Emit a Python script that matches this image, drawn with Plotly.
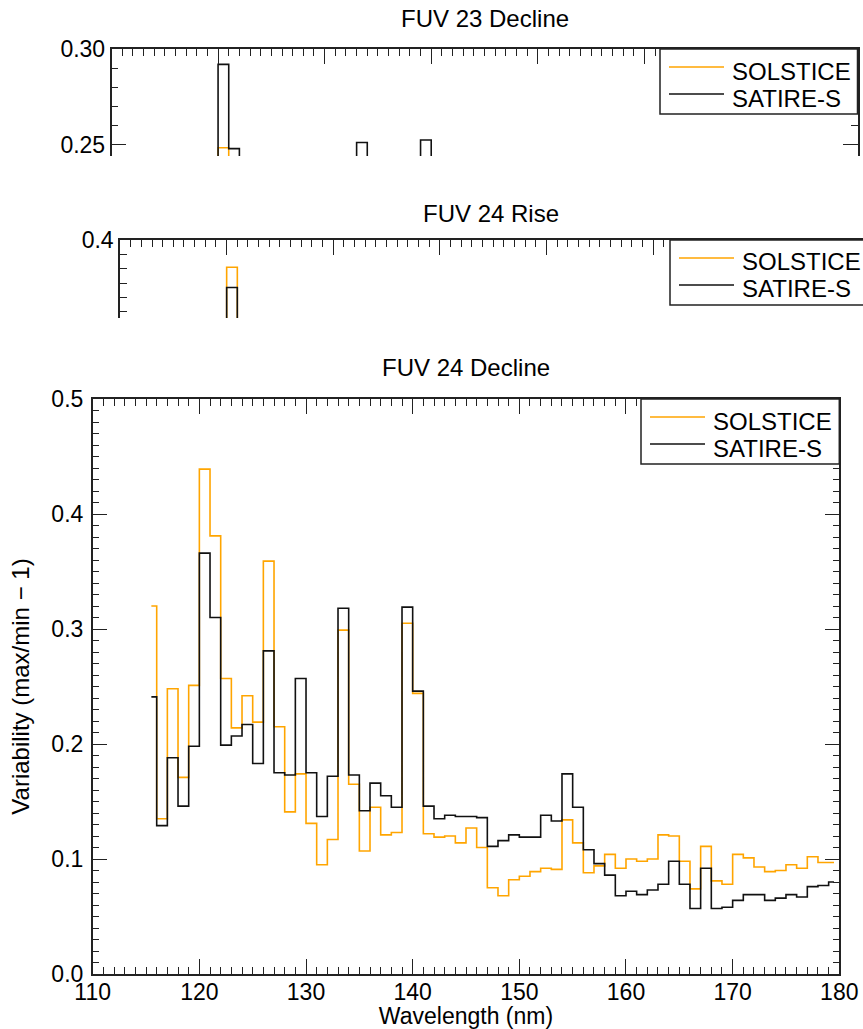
import plotly.graph_objects as go

# ---------------- data ----------------
wavelength = [115.5 + i for i in range(65)]  # bin centres, 1 nm bins 115.5 ... 179.5

# FUV 24 Decline (main panel)
solstice_24d = [0.320, 0.135, 0.248, 0.171, 0.251, 0.439, 0.381, 0.257, 0.214, 0.242,
                0.219, 0.359, 0.215, 0.141, 0.174, 0.131, 0.095, 0.117, 0.299, 0.165,
                0.107, 0.145, 0.121, 0.123, 0.305, 0.244, 0.122, 0.119, 0.120, 0.114,
                0.127, 0.110, 0.075, 0.068, 0.082, 0.085, 0.089, 0.092, 0.091, 0.134,
                0.114, 0.088, 0.094, 0.104, 0.092, 0.100, 0.098, 0.100, 0.121, 0.120,
                0.098, 0.074, 0.111, 0.081, 0.078, 0.104, 0.101, 0.093, 0.089, 0.090,
                0.095, 0.092, 0.102, 0.097, 0.097]
satire_24d = [0.241, 0.129, 0.188, 0.146, 0.198, 0.366, 0.310, 0.199, 0.207, 0.217,
              0.183, 0.281, 0.175, 0.173, 0.257, 0.175, 0.137, 0.172, 0.318, 0.173,
              0.142, 0.166, 0.155, 0.145, 0.319, 0.246, 0.146, 0.135, 0.138, 0.137,
              0.137, 0.136, 0.111, 0.116, 0.121, 0.119, 0.119, 0.138, 0.133, 0.174,
              0.145, 0.108, 0.096, 0.086, 0.068, 0.072, 0.069, 0.073, 0.078, 0.098,
              0.078, 0.057, 0.092, 0.057, 0.058, 0.064, 0.069, 0.069, 0.064, 0.066,
              0.069, 0.067, 0.076, 0.077, 0.080]

# FUV 23 Decline (top panel, only values above ~0.245 are visible)
solstice_23d = [0.210, 0.120, 0.190, 0.140, 0.200, 0.2485, 0.235, 0.190, 0.170, 0.185,
                0.170, 0.230, 0.160, 0.120, 0.140, 0.110, 0.085, 0.100, 0.220, 0.130,
                0.090, 0.115, 0.100, 0.100, 0.225, 0.190, 0.100, 0.098, 0.098, 0.095,
                0.100, 0.090, 0.065, 0.060, 0.070, 0.072, 0.075, 0.078, 0.077, 0.105,
                0.092, 0.074, 0.078, 0.085, 0.076, 0.082, 0.080, 0.082, 0.098, 0.097,
                0.080, 0.062, 0.090, 0.068, 0.066, 0.085, 0.083, 0.077, 0.074, 0.075,
                0.078, 0.076, 0.084, 0.080, 0.080]
satire_23d = [0.195, 0.110, 0.160, 0.125, 0.170, 0.292, 0.248, 0.170, 0.175, 0.185,
              0.155, 0.235, 0.150, 0.148, 0.215, 0.150, 0.118, 0.146, 0.2512, 0.148,
              0.122, 0.140, 0.132, 0.124, 0.2525, 0.205, 0.125, 0.116, 0.118, 0.117,
              0.117, 0.116, 0.095, 0.099, 0.103, 0.102, 0.102, 0.117, 0.113, 0.146,
              0.123, 0.092, 0.082, 0.074, 0.059, 0.062, 0.060, 0.063, 0.067, 0.084,
              0.067, 0.049, 0.079, 0.049, 0.050, 0.055, 0.059, 0.059, 0.055, 0.057,
              0.059, 0.058, 0.065, 0.066, 0.069]

# FUV 24 Rise (middle panel, only values above ~0.346 are visible)
solstice_24r = [0.300, 0.125, 0.230, 0.160, 0.235, 0.381, 0.330, 0.235, 0.195, 0.220,
                0.200, 0.320, 0.195, 0.130, 0.160, 0.120, 0.088, 0.108, 0.270, 0.150,
                0.098, 0.132, 0.110, 0.112, 0.280, 0.222, 0.111, 0.108, 0.109, 0.104,
                0.116, 0.100, 0.069, 0.062, 0.075, 0.078, 0.081, 0.084, 0.083, 0.122,
                0.104, 0.080, 0.086, 0.095, 0.084, 0.091, 0.089, 0.091, 0.110, 0.109,
                0.089, 0.067, 0.101, 0.074, 0.071, 0.095, 0.092, 0.085, 0.081, 0.082,
                0.086, 0.084, 0.093, 0.088, 0.088]
satire_24r = [0.225, 0.120, 0.175, 0.136, 0.185, 0.367, 0.290, 0.186, 0.193, 0.203,
              0.171, 0.263, 0.164, 0.162, 0.240, 0.164, 0.128, 0.161, 0.297, 0.162,
              0.133, 0.155, 0.145, 0.136, 0.298, 0.230, 0.137, 0.126, 0.129, 0.128,
              0.128, 0.127, 0.104, 0.108, 0.113, 0.111, 0.111, 0.129, 0.124, 0.163,
              0.136, 0.101, 0.090, 0.080, 0.064, 0.067, 0.065, 0.068, 0.073, 0.092,
              0.073, 0.053, 0.086, 0.053, 0.054, 0.060, 0.065, 0.065, 0.060, 0.062,
              0.065, 0.063, 0.071, 0.072, 0.075]

panel_titles = ["FUV 23 Decline", "FUV 24 Rise", "FUV 24 Decline"]
series_names = ["SOLSTICE", "SATIRE-S"]
x_title = "Wavelength (nm)"
y_title = "Variability (max/min \u2212 1)"

# ---------------- layout constants ----------------
W, H = 863, 1029
FONT = "Liberation Sans, Arial, Helvetica, sans-serif"
ORANGE = "#FFA500"
BLACK = "#111111"
AXC = "#222222"
PANEL_H = 575.0  # full pixel height of each panel


def xp(px):
    return px / W


def yp(py):
    return 1 - py / H


# pixel boxes (left, right, top, bottom) of the visible parts
top_box = (111.5, 857.5, 49.0, 156.0)
mid_box = (120.0, 863.0, 240.0, 318.0)
main_box = (92.7, 839.3, 399.0, 974.0)

px_per_nm = (main_box[1] - main_box[0]) / 70.0

top_ymax = 0.30
top_ymin = top_ymax - (top_box[3] - top_box[2]) * top_ymax / PANEL_H
mid_ymax = 0.4
mid_ymin = mid_ymax - (mid_box[3] - mid_box[2]) * mid_ymax / PANEL_H
mid_xmax = 110 + (mid_box[1] - mid_box[0]) / px_per_nm

fig = go.Figure()

panels = [
    ("x", "y", solstice_23d, satire_23d),
    ("x2", "y2", solstice_24r, satire_24r),
    ("x3", "y3", solstice_24d, satire_24d),
]
for xa, ya, sol, sat in panels:
    fig.add_trace(go.Scatter(x=wavelength, y=sol, mode="lines", line_shape="hvh",
                             line=dict(color=ORANGE, width=1.6), name=series_names[0],
                             xaxis=xa, yaxis=ya, showlegend=False))
    fig.add_trace(go.Scatter(x=wavelength, y=sat, mode="lines", line_shape="hvh",
                             line=dict(color=BLACK, width=1.6), name=series_names[1],
                             xaxis=xa, yaxis=ya, showlegend=False))

tickfont = dict(family=FONT, size=23, color="black")
minor_x = dict(ticks="inside", ticklen=7, dtick=1, tick0=110, tickcolor=AXC,
               tickwidth=1.3, showgrid=False)
minor_y = dict(ticks="inside", ticklen=7, dtick=0.01, tick0=0, tickcolor=AXC,
               tickwidth=1.3, showgrid=False)
common_x = dict(showgrid=False, zeroline=False, showline=True, linecolor=AXC, linewidth=1.5,
                ticks="inside", ticklen=15, tickwidth=1.3, tickcolor=AXC, dtick=10, tick0=110,
                minor=minor_x, tickfont=tickfont, automargin=False)
common_y = dict(showgrid=False, zeroline=False, showline=True, linecolor=AXC, linewidth=1.5,
                ticks="inside", ticklen=15, tickwidth=1.3, tickcolor=AXC,
                tickfont=tickfont, automargin=False, minor=minor_y)

fig.update_layout(
    width=W, height=H, margin=dict(l=0, r=0, t=0, b=0, autoexpand=False),
    paper_bgcolor="white", plot_bgcolor="white",
    font=dict(family=FONT, color="black"),
    showlegend=False,
    xaxis=dict(common_x, domain=[xp(top_box[0]), xp(top_box[1])], range=[110, 180], side="top",
               showticklabels=False, anchor="y", mirror=False),
    yaxis=dict(common_y, domain=[yp(top_box[3]), yp(top_box[2])], range=[top_ymin, top_ymax],
               dtick=0.05, tick0=0, tickformat=".2f", anchor="x", mirror="ticks"),
    xaxis2=dict(common_x, domain=[xp(mid_box[0]), min(xp(mid_box[1]), 1.0)], range=[110, mid_xmax],
                side="top", showticklabels=False, anchor="y2", mirror=False),
    yaxis2=dict(common_y, domain=[yp(mid_box[3]), yp(mid_box[2])], range=[mid_ymin, mid_ymax],
                dtick=0.1, tick0=0, tickformat=".1f", anchor="x2", mirror=False),
    xaxis3=dict(common_x, domain=[xp(main_box[0]), xp(main_box[1])], range=[110, 180],
                anchor="y3", mirror="ticks", ticklabelstandoff=-3,
                title=dict(text=x_title, font=dict(family=FONT, size=23, color="black"), standoff=6)),
    yaxis3=dict(common_y, domain=[yp(main_box[3]), yp(main_box[2])], range=[0, 0.5],
                dtick=0.1, tick0=0, tickformat=".1f", anchor="x3", mirror="ticks",
                ticklabelstandoff=3,
                title=dict(text=y_title, font=dict(family=FONT, size=24, color="black"), standoff=15)),
)

# ---- legends (box, sample lines, labels) ----
LEG_W, LEG_H = 198, 65


def add_legend(left, top, width=LEG_W):
    fig.add_shape(type="rect", xref="paper", yref="paper",
                  x0=xp(left), x1=xp(left + width), y0=yp(top + LEG_H), y1=yp(top),
                  line=dict(color=AXC, width=1.5), fillcolor="white", layer="above")
    for k, (name, col) in enumerate(zip(series_names, [ORANGE, BLACK])):
        ly = top + 18 + 27 * k
        fig.add_shape(type="line", xref="paper", yref="paper",
                      x0=xp(left + 9), x1=xp(left + 64), y0=yp(ly), y1=yp(ly),
                      line=dict(color=col, width=1.6), layer="above")
        fig.add_annotation(text=name, x=xp(left + 70), y=yp(ly + 4), xref="paper", yref="paper",
                           xanchor="left", yanchor="middle", showarrow=False,
                           font=dict(family=FONT, size=24, color="black"))


add_legend(660, top_box[2], width=top_box[1] - 660)
add_legend(670, mid_box[2], width=210)
add_legend(641, main_box[2], width=main_box[1] - 641)

# ---- panel titles ----
title_y = [18, 213, 367]
title_cx = [(top_box[0] + top_box[1]) / 2, 491.0, (main_box[0] + main_box[1]) / 2]
for t, ty, cx in zip(panel_titles, title_y, title_cx):
    fig.add_annotation(text=t, x=xp(cx), y=yp(ty), xref="paper", yref="paper",
                       xanchor="center", yanchor="middle", showarrow=False,
                       font=dict(family=FONT, size=24, color="black"))

fig.write_html("out.html")
